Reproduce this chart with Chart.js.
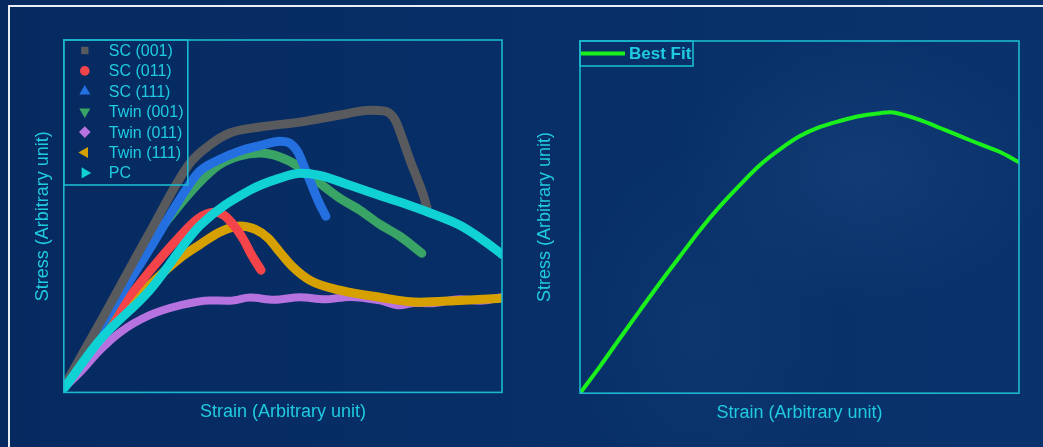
<!DOCTYPE html>
<html>
<head>
<meta charset="utf-8">
<title>Stress–strain curves</title>
<script src="https://cdn.jsdelivr.net/npm/chart.js@4/dist/chart.umd.min.js"></script>
<style>
  html, body { margin: 0; padding: 0; width: 1043px; height: 447px; overflow: hidden; }
  #stage {
    position: relative; width: 1043px; height: 447px;
    background:
      radial-gradient(ellipse 260px 200px at 860px 170px, rgba(60,110,170,0.18), rgba(60,110,170,0) 70%),
      radial-gradient(ellipse 200px 260px at 700px 330px, rgba(50,100,160,0.12), rgba(50,100,160,0) 70%),
      linear-gradient(90deg, #062a60 0%, #072e66 45%, #0a326c 100%);
  }
  .frame {
    position: absolute; left: 8px; top: 5px; width: 1100px; height: 500px;
    border-top: 2px solid #e9eef7; border-left: 2px solid #e9eef7;
  }
  canvas { position: absolute; top: 0; }
  #stressLeft { left: 0; }
  #stressRight { left: 521px; }
</style>
</head>
<body>
<div id="stage">
  <div class="frame"></div>
  <canvas id="stressLeft" width="521" height="447"></canvas>
  <canvas id="stressRight" width="522" height="447"></canvas>
</div>
<script>
// ---- series data (strain, stress in arbitrary units, 0–100) ----
const sc001X   = [0.2, 8.2, 19.4, 28.8, 33.3, 37.9, 44.7, 53.9, 63.0, 69.9, 73.3, 75.6, 77.4, 79.0, 80.8, 82.2, 82.9];
const sc001Y   = [2.0, 19.6, 44.9, 65.1, 70.2, 73.6, 75.3, 76.7, 78.7, 80.1, 79.8, 77.3, 71.6, 65.9, 60.2, 55.4, 52.3];

const sc011X   = [0.2, 8.2, 19.4, 26.3, 30.8, 34.2, 36.5, 38.8, 41.1, 42.9, 45.0];
const sc011Y   = [2.0, 16.2, 34.1, 44.0, 49.4, 51.1, 50.3, 47.4, 43.2, 38.9, 34.7];

const sc111X   = [0.2, 8.2, 19.4, 26.3, 30.8, 35.4, 40.2, 44.7, 49.3, 51.6, 53.4, 55.0, 56.6, 58.0, 59.8];
const sc111Y   = [2.0, 18.2, 40.3, 54.5, 62.5, 66.0, 68.5, 70.0, 71.3, 70.7, 68.2, 63.6, 58.8, 54.5, 50.0];

const twin001X = [0.2, 8.2, 19.4, 26.3, 30.8, 35.4, 39.9, 44.7, 49.3, 53.9, 58.4, 63.0, 67.6, 72.1, 76.7, 81.7];
const twin001Y = [2.0, 17.6, 41.8, 53.0, 59.4, 64.5, 67.0, 67.9, 66.8, 63.9, 59.4, 55.1, 51.7, 47.7, 44.3, 39.5];

const twin011X = [0.2, 3.7, 8.2, 12.8, 19.6, 26.5, 33.3, 38.0, 42.5, 48.0, 53.9, 59.5, 65.3, 72.1, 76.7, 80.0, 83.6, 90.4, 95.0, 100];
const twin011Y = [1.4, 5.7, 11.9, 17.0, 21.9, 24.7, 26.1, 26.0, 26.9, 26.3, 27.0, 26.4, 27.1, 26.1, 24.7, 25.4, 25.3, 26.4, 26.0, 27.0];

const twin111X = [0.2, 8.2, 19.6, 26.5, 31.1, 35.6, 40.2, 43.6, 46.6, 49.3, 52.1, 56.2, 63.0, 72.1, 81.2, 90.4, 100];
const twin111Y = [2.0, 15.3, 30.4, 38.1, 42.0, 45.5, 47.2, 46.3, 43.8, 39.8, 35.8, 31.8, 29.0, 27.0, 25.6, 26.1, 26.7];

const pcX      = [0.2, 8.2, 19.6, 31.1, 42.5, 49.3, 53.9, 58.4, 65.3, 72.1, 76.7, 83.6, 90.4, 95.0, 100];
const pcY      = [1.4, 14.8, 29.0, 47.4, 57.4, 60.8, 62.2, 61.6, 58.8, 55.9, 54.0, 50.9, 47.4, 43.8, 39.2];

const fitX     = [0.2, 4.6, 9.1, 13.7, 18.2, 22.8, 27.3, 31.9, 36.4, 41.0, 45.6, 50.1, 54.7, 59.2, 63.8, 68.3, 70.6, 72.9, 77.4, 82.0, 86.6, 91.1, 95.7, 100];
const fitY     = [0.3, 7.7, 15.6, 23.6, 31.3, 38.9, 46.3, 53.1, 59.1, 64.8, 69.3, 73.0, 75.6, 77.3, 78.7, 79.5, 79.8, 79.3, 77.6, 75.3, 73.0, 70.7, 68.5, 65.6];

const seriesLabels = ['SC (001)', 'SC (011)', 'SC (111)', 'Twin (001)', 'Twin (011)', 'Twin (111)', 'PC'];
const fitLabel = 'Best Fit';
const xTitle = 'Strain (Arbitrary unit)';
const yTitle = 'Stress (Arbitrary unit)';

// ---- styling ----
const FONT = '"Liberation Sans", Arial, Helvetica, sans-serif';
const CYAN_TEXT = '#1fcbe0';
const CYAN_LINE = '#1bb9cf';

const pts = (xs, ys) => xs.map((x, i) => ({ x, y: ys[i] }));

// Plot-area box plus an inset key in the top-left corner
const insetKey = {
  id: 'insetKey',
  afterDraw(chart, args, o) {
    const { ctx, chartArea: a } = chart;
    ctx.save();
    ctx.strokeStyle = CYAN_LINE;
    ctx.lineWidth = 1.6;
    ctx.strokeRect(a.left, a.top, a.right - a.left, a.bottom - a.top);

    const sets = chart.data.datasets;
    const bx = a.left, by = a.top;
    ctx.strokeRect(bx, by, o.width, o.height);
    ctx.font = (o.bold ? 'bold ' : '') + o.fontSize + 'px ' + FONT;
    ctx.textBaseline = 'middle';
    ctx.textAlign = 'left';
    sets.forEach((ds, i) => {
      const cy = by + o.firstRow + i * o.rowStep;
      if (o.kind === 'line') {
        ctx.strokeStyle = ds.borderColor;
        ctx.lineWidth = 4;
        ctx.beginPath();
        ctx.moveTo(bx + o.lineFrom, cy);
        ctx.lineTo(bx + o.lineTo, cy);
        ctx.stroke();
      } else {
        ctx.fillStyle = ds.borderColor;
        ctx.strokeStyle = ds.borderColor;
        Chart.helpers.drawPoint(ctx, {
          pointStyle: ds.pointStyle,
          rotation: ds.pointRotation || 0,
          radius: ds.keyRadius,
          borderWidth: 0
        }, bx + o.markerX, cy);
      }
      ctx.fillStyle = CYAN_TEXT;
      ctx.fillText(ds.label, bx + o.textX, cy + 1);
    });
    ctx.restore();
  }
};

function axes(xPad, yPad) {
  const common = {
    type: 'linear', min: 0, max: 100,
    grid: { display: false, drawTicks: false },
    ticks: { display: false },
    border: { display: false }
  };
  return {
    x: Object.assign({}, common, {
      title: { display: true, text: xTitle, color: CYAN_TEXT, font: { family: FONT, size: 18 }, padding: xPad }
    }),
    y: Object.assign({}, common, {
      title: { display: true, text: yTitle, color: CYAN_TEXT, font: { family: FONT, size: 18 }, padding: yPad }
    })
  };
}

function curve(label, xs, ys, color, style, rot, keyR, width, order) {
  return {
    label, data: pts(xs, ys),
    borderColor: color, backgroundColor: color,
    borderWidth: width, pointRadius: 0, pointHoverRadius: 0,
    pointStyle: style, pointRotation: rot, keyRadius: keyR,
    cubicInterpolationMode: 'monotone', borderCapStyle: 'round', borderJoinStyle: 'round',
    fill: false, order
  };
}

new Chart(document.getElementById('stressLeft'), {
  type: 'line',
  data: {
    datasets: [
      curve(seriesLabels[0], sc001X,   sc001Y,   '#585a5e', 'rect',     0,   5.2, 9, 2),
      curve(seriesLabels[1], sc011X,   sc011Y,   '#f5434a', 'circle',   0,   4.8, 9, 5),
      curve(seriesLabels[2], sc111X,   sc111Y,   '#2470e0', 'triangle', 0,   6.4, 9, 3),
      curve(seriesLabels[3], twin001X, twin001Y, '#3aa466', 'triangle', 180, 6.4, 9, 4),
      curve(seriesLabels[4], twin011X, twin011Y, '#b673e0', 'rectRot',  0,   5.8, 8, 7),
      curve(seriesLabels[5], twin111X, twin111Y, '#d6a000', 'triangle', 270, 6.4, 9, 6),
      curve(seriesLabels[6], pcX,      pcY,      '#10d2d4', 'triangle', 90,  6.4, 9, 1)
    ]
  },
  options: {
    responsive: false, animation: false, devicePixelRatio: 1,
    layout: { padding: { left: 32, top: 40, right: 19, bottom: 24 } },
    scales: axes({ top: 9, bottom: 0 }, { top: 0, bottom: 10.2 }),
    plugins: {
      legend: { display: false }, tooltip: { enabled: false },
      insetKey: { kind: 'point', width: 124, height: 145, firstRow: 10.5, rowStep: 20.4,
                  markerX: 21, textX: 45, fontSize: 16, bold: false }
    }
  },
  plugins: [insetKey]
});

new Chart(document.getElementById('stressRight'), {
  type: 'line',
  data: {
    datasets: [
      curve(fitLabel, fitX, fitY, '#19f01c', 'line', 0, 0, 4, 1)
    ]
  },
  options: {
    responsive: false, animation: false, devicePixelRatio: 1,
    layout: { padding: { left: 13, top: 41, right: 24, bottom: 23 } },
    scales: axes({ top: 9.2, bottom: 0 }, { top: 0, bottom: 24.4 }),
    plugins: {
      legend: { display: false }, tooltip: { enabled: false },
      insetKey: { kind: 'line', width: 113, height: 25, firstRow: 12.5, rowStep: 0,
                  lineFrom: 1, lineTo: 45, textX: 49, fontSize: 17, bold: true }
    }
  },
  plugins: [insetKey]
});
</script>
</body>
</html>
